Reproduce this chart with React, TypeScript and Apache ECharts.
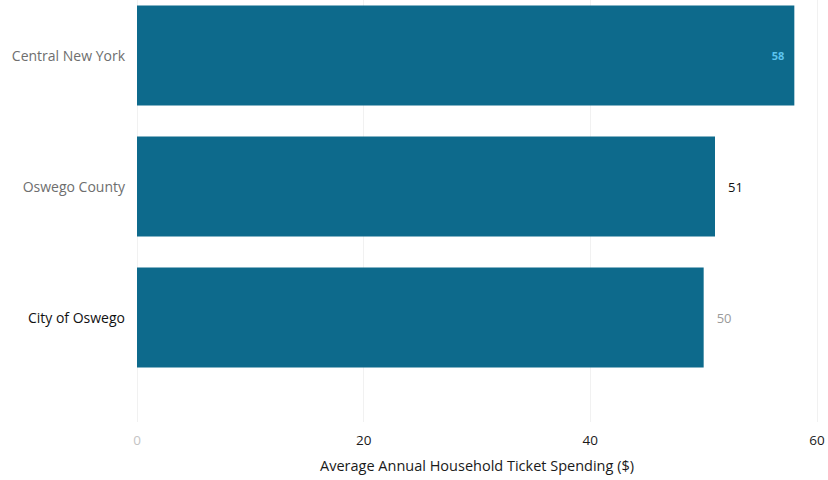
import React, { useEffect, useRef } from "react";
import * as echarts from "echarts";

const categories = ["Central New York", "Oswego County", "City of Oswego"];
const values = [58, 51, 50];
const categoryColors = ["#6e6e6e", "#6e6e6e", "#111111"];
const xTicks = [0, 20, 40, 60];
const xTickColors = ["#c4c4c4", "#1a1a1a", "#1a1a1a", "#1a1a1a"];
const axisTitle = "Average Annual Household Ticket Spending ($)";

const FONT = "'Open Sans', 'Noto Sans', sans-serif";

export default function App() {
  const ref = useRef<HTMLDivElement>(null);
  useEffect(() => {
    if (!ref.current) return;
    const chart = echarts.init(ref.current, undefined, { renderer: "svg" });
    const labelStyles = [
      { position: "insideRight", distance: 10, color: "#5cc3ee", fontSize: 11, fontWeight: "bold" },
      { position: "right", distance: 13, color: "#111111", fontSize: 13 },
      { position: "right", distance: 13, color: "#9a9a9a", fontSize: 13 },
    ];
    chart.setOption({
      animation: false,
      textStyle: { fontFamily: FONT },
      grid: [
        { left: 137, right: 11, top: -10, height: 393, outerBoundsMode: "none", containLabel: false },
        { left: 137, right: 11, top: 383, height: 39, outerBoundsMode: "none", containLabel: false },
      ],
      xAxis: [
        {
          gridIndex: 0,
          type: "value",
          min: xTicks[0],
          max: xTicks[xTicks.length - 1],
          interval: 20,
          axisLine: { show: false },
          axisTick: { show: false },
          axisLabel: { show: false },
          splitLine: { show: true, lineStyle: { color: "#f1f1f1", width: 1 } },
        },
        {
          gridIndex: 1,
          type: "value",
          min: xTicks[0],
          max: xTicks[xTicks.length - 1],
          interval: 20,
          axisLine: { show: false },
          axisTick: { show: false },
          splitLine: { show: true, lineStyle: { color: "#f1f1f1", width: 1 } },
          axisLabel: {
            margin: 11,
            fontSize: 13.5,
            fontFamily: FONT,
            color: (_v: any, i: number) => xTickColors[i] || "#1a1a1a",
          },
          name: axisTitle,
          nameLocation: "middle",
          nameGap: 36,
          nameTextStyle: { fontSize: 14.5, color: "#1a1a1a", fontFamily: FONT },
        },
      ],
      yAxis: [
        {
          gridIndex: 0,
          type: "category",
          data: categories,
          inverse: true,
          axisLine: { show: false },
          axisTick: { show: false },
          axisLabel: {
            margin: 12,
            fontSize: 14,
            fontFamily: FONT,
            color: (_v: string, i: number) => categoryColors[i],
          },
        },
        { gridIndex: 1, type: "value", show: false },
      ],
      series: [
        {
          type: "bar",
          xAxisIndex: 0,
          yAxisIndex: 0,
          barWidth: 100,
          itemStyle: { color: "#0d6a8c" },
          data: values.map((v, i) => ({
            value: v,
            label: { show: true, ...labelStyles[i], fontFamily: FONT },
          })),
        },
      ],
    });
    return () => chart.dispose();
  }, []);
  return <div ref={ref} style={{ width: 828, height: 480, position: "absolute", left: 0, top: 0, background: "#fff" }} />;
}
